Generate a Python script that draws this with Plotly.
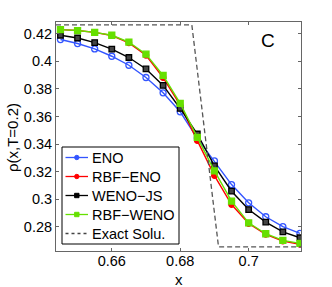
import plotly.graph_objects as go

x = [0.645, 0.650, 0.655, 0.660, 0.665, 0.670, 0.675, 0.680, 0.685, 0.690, 0.695, 0.700, 0.705, 0.710, 0.715]
eno = [0.4157, 0.4128, 0.4089, 0.4036, 0.3971, 0.3882, 0.3771, 0.3634, 0.3442, 0.3278, 0.3107, 0.2975, 0.2874, 0.2802, 0.2753]
rbf_eno = [0.4229, 0.4222, 0.4209, 0.4186, 0.4133, 0.4043, 0.3881, 0.3682, 0.3425, 0.3172, 0.2962, 0.2825, 0.2746, 0.2698, 0.2674]
weno_js = [0.4188, 0.4168, 0.4135, 0.4087, 0.4027, 0.3944, 0.3825, 0.3658, 0.3473, 0.3243, 0.3059, 0.2926, 0.2835, 0.2765, 0.2722]
rbf_weno = [0.4229, 0.4222, 0.4209, 0.4188, 0.4139, 0.4051, 0.3897, 0.3695, 0.3449, 0.3206, 0.2987, 0.2830, 0.2751, 0.2703, 0.2681]
exact_x = [0.6437, 0.6834, 0.6912, 0.7153]
exact_y = [0.4263, 0.4263, 0.2656, 0.2656]
x_ticks = [0.66, 0.68, 0.70]
x_tick_text = ["0.66", "0.68", "0.7"]
y_ticks = [0.28, 0.30, 0.32, 0.34, 0.36, 0.38, 0.40, 0.42]
y_tick_text = ["0.28", "0.3", "0.32", "0.34", "0.36", "0.38", "0.4", "0.42"]

FONT = "Liberation Sans, Arial, sans-serif"
W, H = 332, 287
L, R, T, B = 56, 301, 22, 251

styles = [
    dict(name="ENO", y=eno, color="#3355ff", symbol="circle-open", size=6, fill="#3355ff"),
    dict(name="RBF−ENO", y=rbf_eno, color="#ff0000", symbol="circle", size=5.5, fill="#ff0000"),
    dict(name="WENO−JS", y=weno_js, color="#000000", symbol="square", size=5.5, fill="#444444"),
    dict(name="RBF−WENO", y=rbf_weno, color="#66e000", symbol="square", size=6, fill="#66e000"),
]

fig = go.Figure()
for s in styles:
    fig.add_trace(go.Scatter(
        x=x, y=s["y"], name=s["name"], mode="lines+markers", showlegend=False,
        line=dict(color=s["color"], width=1.4),
        marker=dict(symbol=s["symbol"], size=s["size"], color=s["fill"],
                    line=dict(color=s["color"], width=1.3))))
fig.add_trace(go.Scatter(x=exact_x, y=exact_y, name="Exact Solu.", mode="lines", showlegend=False,
                         line=dict(color="#555555", width=1.3, dash="5px,3px")))

axis_common = dict(showgrid=False, zeroline=False, showline=True, mirror="ticks",
                   linecolor="#666666", linewidth=1, ticks="inside", ticklen=3,
                   tickcolor="#666666", tickfont=dict(family=FONT, size=14.5, color="black"))
fig.update_xaxes(range=[0.6437, 0.7153], tickvals=x_ticks, ticktext=x_tick_text,
                 ticklabelstandoff=-3, **axis_common)
fig.update_yaxes(range=[0.2626, 0.4284], tickvals=y_ticks, ticktext=y_tick_text, **axis_common)


def px(v):
    return (v - L) / (R - L)


def py(v):
    return (B - v) / (B - T)


# axis titles
fig.add_annotation(x=px(178.5), y=py(279), xref="paper", yref="paper", text="x", showarrow=False,
                   font=dict(family=FONT, size=15, color="black"), xanchor="center", yanchor="middle")
fig.add_annotation(x=px(12), y=py(138), xref="paper", yref="paper", text="ρ(x,T=0.2)", showarrow=False,
                   textangle=-90, font=dict(family=FONT, size=15, color="black"),
                   xanchor="center", yanchor="middle")
# panel label
fig.add_annotation(x=px(268), y=py(41), xref="paper", yref="paper", text="C", showarrow=False,
                   font=dict(family=FONT, size=19, color="black"), xanchor="center", yanchor="middle")

# legend box
fig.add_shape(type="rect", xref="paper", yref="paper", x0=px(62), x1=px(179), y0=py(147), y1=py(244),
              line=dict(color="black", width=1), fillcolor="white", layer="above")
legend_entries = styles + [dict(name="Exact Solu.", color="#444444", symbol=None)]
for i, s in enumerate(legend_entries):
    yc = 157.5 + 19 * i
    is_exact = s["symbol"] is None
    fig.add_shape(type="line", xref="paper", yref="paper", x0=px(65.5), x1=px(88), y0=py(yc), y1=py(yc),
                  line=dict(color=s["color"], width=1.3, dash="dot" if is_exact else "solid"),
                  layer="above")
    if not is_exact:
        r = 2.2
        fig.add_shape(type="circle" if "circle" in s["symbol"] else "rect", xref="paper", yref="paper",
                      x0=px(76.8 - r), x1=px(76.8 + r), y0=py(yc - r), y1=py(yc + r),
                      line=dict(color=s["color"], width=1), fillcolor=s["color"], layer="above")
    fig.add_annotation(x=px(89.5), y=py(yc), xref="paper", yref="paper", text=s["name"], showarrow=False,
                       xanchor="left", yanchor="middle", font=dict(family=FONT, size=14.5, color="black"))

fig.update_layout(width=W, height=H, margin=dict(l=L, r=W - R, t=T, b=H - B),
                  plot_bgcolor="white", paper_bgcolor="white", showlegend=False,
                  font=dict(family=FONT, size=14, color="black"))
fig.write_html("out.html", config={"displayModeBar": False},
               post_script="document.body.style.margin='0';document.body.style.padding='0';")
